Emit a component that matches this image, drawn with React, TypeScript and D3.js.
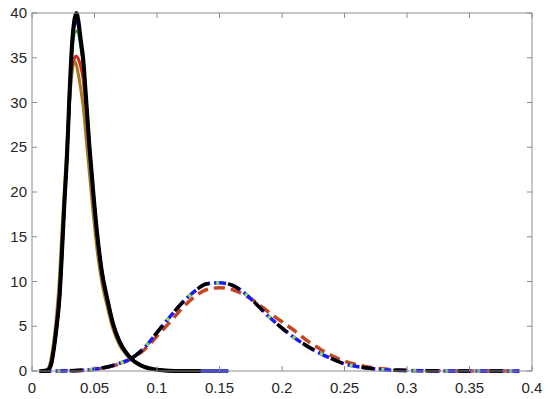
import React from 'react'
import { scaleLinear, line, curveMonotoneX } from 'd3'

const W = 550
const H = 399
const margin = { top: 13, right: 18, bottom: 28, left: 32 }

const xTicks = [0, 0.05, 0.1, 0.15, 0.2, 0.25, 0.3, 0.35, 0.4]
const xTickLabels = ['0', '0.05', '0.1', '0.15', '0.2', '0.25', '0.3', '0.35', '0.4']
const yTicks = [0, 5, 10, 15, 20, 25, 30, 35, 40]
const yTickLabels = ['0', '5', '10', '15', '20', '25', '30', '35', '40']

// narrow peak (solid lines), all on one x grid
const narrowX = [0.008, 0.012, 0.015, 0.018, 0.02, 0.022, 0.024, 0.026, 0.028, 0.03, 0.032, 0.034, 0.0355, 0.037, 0.039, 0.041, 0.043, 0.046, 0.049, 0.052, 0.056, 0.06, 0.065, 0.07, 0.075, 0.08, 0.09, 0.1, 0.11, 0.12, 0.135, 0.157]
const narrowBrown = [0, 0.15, 1.2, 4.0, 6.8, 10.5, 15.8, 20.5, 25.5, 30, 33.3, 34.6, 34.2, 33.2, 31.5, 29.5, 26.5, 22, 17.5, 13.6, 9.8, 7.3, 4.6, 2.9, 1.9, 1.2, 0.4, 0.12, 0.03, 0, 0, 0]
const narrowRed = [0, 0.05, 0.6, 3.0, 5.3, 8.2, 13.3, 19, 24, 30, 34, 35, 35.2, 34.9, 34, 32.5, 29.5, 24.5, 19.6, 15.3, 10.9, 8.1, 5.2, 3.3, 2.1, 1.3, 0.45, 0.15, 0.04, 0.01, 0, 0]
const narrowGreen = [0, 0.05, 0.6, 3.0, 5.3, 8.2, 13.3, 19, 24, 30.5, 35.5, 37.8, 38, 37.8, 36.2, 34, 30.5, 24.8, 19.8, 15.4, 11, 8.2, 5.2, 3.3, 2.1, 1.3, 0.45, 0.15, 0.04, 0.01, 0, 0]
const narrowBlue = [0, 0.05, 0.6, 3.0, 5.3, 8.2, 13.3, 19, 24, 30.8, 36, 38.7, 39, 38.6, 36.6, 34.4, 30.8, 24.9, 19.9, 15.5, 11, 8.2, 5.2, 3.3, 2.1, 1.3, 0.45, 0.15, 0.04, 0.01, 0, 0]
const narrowBlack = [0, 0.05, 0.6, 3.0, 5.3, 8.2, 13.3, 19, 24, 31, 36.5, 39.3, 40, 39.2, 37, 34.8, 31, 25, 20, 15.5, 11, 8.2, 5.2, 3.3, 2.1, 1.3, 0.45, 0.15, 0.04, 0.01, 0, null]

// wide peak (dashed lines)
const wideX = [0.006, 0.03, 0.05, 0.06, 0.07, 0.08, 0.09, 0.1, 0.11, 0.12, 0.13, 0.14, 0.15, 0.16, 0.17, 0.18, 0.19, 0.2, 0.21, 0.22, 0.23, 0.24, 0.25, 0.26, 0.27, 0.28, 0.3, 0.32, 0.35, 0.39]
const wideRed = [0, 0.02, 0.2, 0.4, 0.8, 1.4, 2.4, 3.9, 5.4, 7.0, 8.3, 9.1, 9.3, 9.1, 8.5, 7.6, 6.5, 5.5, 4.5, 3.4, 2.5, 1.7, 1.1, 0.7, 0.42, 0.25, 0.08, 0.03, 0, 0]
const wideGreen = [0, 0.02, 0.2, 0.45, 0.85, 1.45, 2.6, 4.3, 6.0, 7.6, 8.9, 9.75, 9.85, 9.6, 8.7, 7.4, 6.0, 4.8, 3.7, 2.8, 2.0, 1.35, 0.8, 0.5, 0.3, 0.15, 0.05, 0.02, 0, 0]
const wideBlue = [0, 0.02, 0.2, 0.45, 0.85, 1.45, 2.6, 4.3, 6.0, 7.6, 8.9, 9.75, 9.85, 9.6, 8.7, 7.4, 6.0, 4.8, 3.7, 2.8, 2.0, 1.35, 0.8, 0.5, 0.3, 0.15, 0.05, 0.02, 0, 0]
const wideBlack = [0, 0.02, 0.2, 0.45, 0.85, 1.45, 2.6, 4.3, 6.0, 7.6, 8.9, 9.75, 9.85, 9.6, 8.7, 7.4, 6.0, 4.8, 3.7, 2.8, 2.0, 1.35, 0.8, 0.5, 0.3, 0.15, 0.05, 0.02, 0, 0]

type Series = { xs: number[]; ys: (number | null)[]; color: string; width: number; dash?: string; offset?: number }

const solidSeries: Series[] = [
  { xs: narrowX, ys: narrowBrown, color: '#a57a1c', width: 3 },
  { xs: narrowX, ys: narrowRed, color: '#d42a1a', width: 3 },
  { xs: narrowX, ys: narrowGreen, color: '#2fae2f', width: 3 },
  { xs: narrowX, ys: narrowBlue, color: '#1010ff', width: 3 },
  { xs: narrowX, ys: narrowBlack, color: '#000000', width: 4 },
]

const dashedSeries: Series[] = [
  { xs: wideX, ys: wideRed, color: '#c4451f', width: 3.5, dash: '11,6' },
  { xs: wideX, ys: wideBlue, color: '#1a1aff', width: 3.5, dash: '12,4' },
  { xs: wideX, ys: wideGreen, color: '#8fe04a', width: 3.5, dash: '3,29', offset: 14 },
  { xs: wideX, ys: wideBlack, color: '#000000', width: 3.5, dash: '13,19', offset: 2 },
]

const App = () => {
  const x = scaleLinear().domain([0, 0.4]).range([margin.left, W - margin.right])
  const y = scaleLinear().domain([0, 40]).range([H - margin.bottom, margin.top])

  const path = (s: Series) => {
    const pts = s.xs.map((v, i) => [v, s.ys[i]] as [number, number | null])
    const gen = line<[number, number | null]>()
      .defined(d => d[1] !== null)
      .x(d => x(d[0]))
      .y(d => y(d[1] as number))
      .curve(curveMonotoneX)
    return gen(pts) || ''
  }

  const x0 = x(0)
  const x1 = x(0.4)
  const y0 = y(0)
  const y1 = y(40)
  const axisColor = '#8c8c8c'
  const font = 'Arial, "Liberation Sans", sans-serif'

  return (
    <svg width={W} height={H} style={{ position: 'absolute', left: 0, top: 0, background: '#fff' }}>
      {dashedSeries.map((s, i) => (
        <path key={'d' + i} d={path(s)} fill="none" stroke={s.color} strokeWidth={s.width}
          strokeDasharray={s.dash} strokeDashoffset={s.offset || 0} />
      ))}
      {solidSeries.map((s, i) => (
        <path key={'s' + i} d={path(s)} fill="none" stroke={s.color} strokeWidth={s.width} strokeLinejoin="round" />
      ))}

      {/* box with inward ticks on all sides */}
      <rect x={x0} y={y1} width={x1 - x0} height={y0 - y1} fill="none" stroke={axisColor} strokeWidth={1} />
      {xTicks.map((t, i) => (
        <g key={'xt' + i}>
          <line x1={x(t)} x2={x(t)} y1={y0} y2={y0 - 5} stroke={axisColor} />
          <line x1={x(t)} x2={x(t)} y1={y1} y2={y1 + 5} stroke={axisColor} />
          <text x={x(t)} y={y0 + 22} textAnchor="middle" fontFamily={font} fontSize={15} fill="#262626">
            {xTickLabels[i]}
          </text>
        </g>
      ))}
      {yTicks.map((t, i) => (
        <g key={'yt' + i}>
          <line x1={x0} x2={x0 + 5} y1={y(t)} y2={y(t)} stroke={axisColor} />
          <line x1={x1} x2={x1 - 5} y1={y(t)} y2={y(t)} stroke={axisColor} />
          <text x={x0 - 5} y={y(t) + 5} textAnchor="end" fontFamily={font} fontSize={15} fill="#262626">
            {yTickLabels[i]}
          </text>
        </g>
      ))}
    </svg>
  )
}

export default App
